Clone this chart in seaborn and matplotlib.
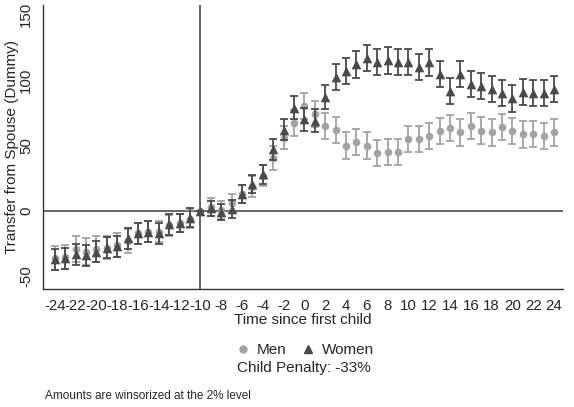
import numpy as np
import pandas as pd
import matplotlib
matplotlib.use("Agg")
import matplotlib.pyplot as plt
import seaborn as sns
from matplotlib.lines import Line2D

sns.set_style("white")
plt.rcParams['font.family'] = ['Liberation Sans', 'DejaVu Sans']

event_time = list(range(-24, 25))
women = [-37, -36, -33, -34, -31, -28, -27, -21, -17, -16, -17, -10, -9, -5, 0,
         2, -1, 1.5, 13, 20.5, 28, 47, 62, 79, 70, 69, 87,
         102.5, 107, 112, 117, 114, 115, 114, 114, 110, 113.5, 104.5, 92, 104.5,
         97, 95.5, 93.5, 90, 86, 91, 90, 90, 93]
women_ci = [8, 8, 8, 8, 8, 8, 8, 8, 8, 8, 8, 8, 7, 7, 0,
            6, 6, 7, 7, 7, 7, 8, 8, 9, 9, 9, 9,
            10, 10, 10, 10, 10, 10, 10, 10, 10, 10, 10, 10, 10,
            10, 10, 10, 10, 10, 10, 10, 10, 10]
men = [-36, -35, -29, -31, -29, -28, -26, -23, -17, -16, -16, -11, -9, -6, 0,
       3, 1, 6, 13, 18.5, 27, 40.5, 56, 67.5, 80, 74, 65,
       62, 50, 52.5, 50, 44, 45, 45, 55, 55, 57, 61, 63.5, 60,
       65, 61.5, 60, 64, 61, 58.5, 59, 57.5, 60]
men_ci = [9, 9, 10, 10, 10, 9, 9, 9, 8, 8, 8, 8, 7, 7, 0,
          7, 7, 7, 7, 8, 8, 9, 9, 10, 10, 10, 10,
          10, 10, 10, 10, 10, 10, 10, 10, 10, 10, 10, 10, 10,
          10, 10, 10, 10, 10, 10, 10, 10, 10]
x_ticks = list(range(-24, 25, 2))
y_ticks = [-50, 0, 50, 100, 150]

df = pd.DataFrame({"t": event_time * 2,
                   "est": men + women,
                   "ci": men_ci + women_ci,
                   "group": ["Men"] * len(men) + ["Women"] * len(women)})

men_col = "#a3a3a3"
women_col = "#4a4a4a"

fig = plt.figure(figsize=(5.74, 4.07), dpi=100)
ax = fig.add_axes([0.0749, 0.29, 0.906, 0.698])

ax.axhline(0, color="#3a3a3a", lw=1.1, zorder=1)
ax.axvline(-10, color="#3a3a3a", lw=1.1, zorder=1)

for grp, col, mk, ms, z in [("Men", men_col, "o", 30, 3), ("Women", women_col, "^", 48, 5)]:
    d = df[df.group == grp]
    ax.errorbar(d.t, d.est, yerr=d.ci, fmt="none", ecolor=col, elinewidth=1.3,
                capsize=3.2, capthick=1.3, zorder=z)
    sns.scatterplot(data=d, x="t", y="est", marker=mk, s=ms, color=col,
                    edgecolor=col, linewidth=0, ax=ax, zorder=z + 1, legend=False)

ax.set_xlim(-25.13, 24.87)
ax.set_ylim(-59.6, 157.5)
ax.set_xticks(x_ticks)
ax.set_xticklabels([str(v) for v in x_ticks], fontsize=10.8)
ax.set_yticks(y_ticks)
ax.set_yticklabels([str(v) for v in y_ticks], fontsize=10.8, rotation=90, va="center")
ax.tick_params(axis="both", direction="out", length=5, width=1, color="#333333", pad=2)
for s in ["top", "right"]:
    ax.spines[s].set_visible(False)
for s in ["left", "bottom"]:
    ax.spines[s].set_color("#333333")
    ax.spines[s].set_linewidth(1)
ax.set_xlabel("Time since first child", fontsize=11, labelpad=0)
ax.set_ylabel("Transfer from Spouse (Dummy)", fontsize=11, labelpad=0)

handles = [Line2D([], [], marker="o", color=men_col, ls="none", markersize=5),
           Line2D([], [], marker="^", color=women_col, ls="none", markersize=6)]
fig.legend(handles, ["Men", "Women"], loc="center", bbox_to_anchor=(0.53, 0.14),
           ncol=2, frameon=False, fontsize=11, handletextpad=0.3,
           columnspacing=0.8, handlelength=1.2)
fig.text(0.53, 0.096, "Child Penalty: -33%", ha="center", va="center", fontsize=11)
fig.text(0.079, 0.027, "Amounts are winsorized at the 2% level", ha="left",
         va="center", fontsize=8.5)

fig.savefig("out.png", dpi=100)
